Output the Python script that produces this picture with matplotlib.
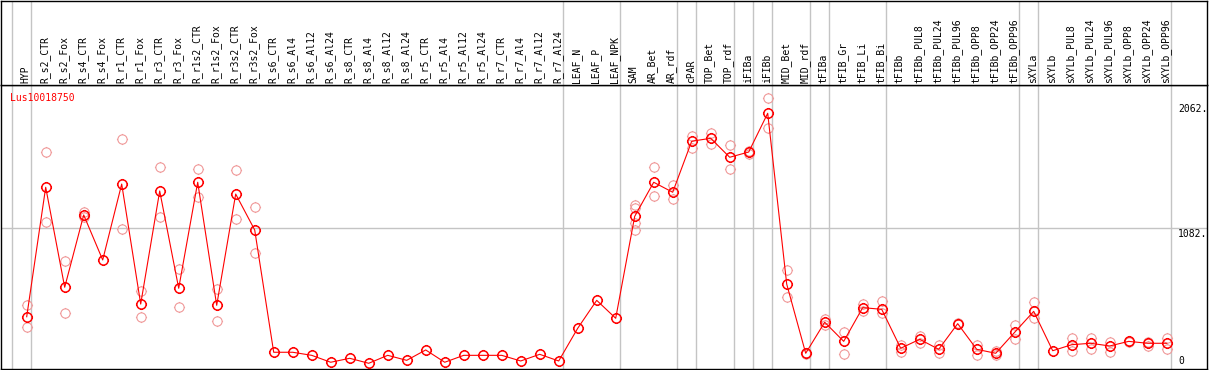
import matplotlib
matplotlib.use("Agg")
import matplotlib.pyplot as plt
from matplotlib.path import Path

gene = "Lus10018750"

samples = ["HYP", "R_s2_CTR", "R_s2_Fox", "R_s4_CTR", "R_s4_Fox", "R_r1_CTR", "R_r1_Fox",
           "R_r3_CTR", "R_r3_Fox", "R_r1s2_CTR", "R_r1s2_Fox", "R_r3s2_CTR", "R_r3s2_Fox",
           "R_s6_CTR", "R_s6_Al4", "R_s6_Al12", "R_s6_Al24", "R_s8_CTR", "R_s8_Al4",
           "R_s8_Al12", "R_s8_Al24", "R_r5_CTR", "R_r5_Al4", "R_r5_Al12", "R_r5_Al24",
           "R_r7_CTR", "R_r7_Al4", "R_r7_Al12", "R_r7_Al24", "LEAF_N", "LEAF_P", "LEAF_NPK",
           "SAM", "AR_Bet", "AR_rdf", "cPAR", "TOP_Bet", "TOP_rdf", "iFIBa", "iFIBb",
           "MID_Bet", "MID_rdf", "tFIBa", "tFIB_Gr", "tFIB_Li", "tFIB_Bi", "tFIBb",
           "tFIBb_PUL8", "tFIBb_PUL24", "tFIBb_PUL96", "tFIBb_OPP8", "tFIBb_OPP24",
           "tFIBb_OPP96", "sXYLa", "sXYLb", "sXYLb_PUL8", "sXYLb_PUL24", "sXYLb_PUL96",
           "sXYLb_OPP8", "sXYLb_OPP24", "sXYLb_OPP96"]

means = [392, 1402, 622, 1186, 835, 1427, 491, 1373, 614, 1441, 481, 1349, 1069,
         115, 115, 91, 37, 68, 29, 91, 52, 133, 37, 91, 91, 91, 47, 99, 47,
         302, 520, 380,
         1175, 1441, 1363, 1761, 1784, 1636, 1677, 1979, 647, 107,
         349, 200, 463, 450, 146, 216, 138, 338, 138, 107, 271,
         434, 127, 174, 185, 164, 200, 185, 185]

reps = [[484, 310], [1675, 1129], [824, 421], [1211, 1172], [], [1776, 1076], [590, 388],
        [1558, 1172], [762, 466], [1542, 1328], [608, 356], [1534, 1157], [1246, 887],
        [], [], [], [], [], [], [], [], [], [], [], [], [], [], [], [],
        [], [], [],
        [1260, 1243, 1126, 1066], [1558, 1332], [1417, 1308], [1802, 1711], [1825, 1737],
        [1729, 1542], [1687, 1659], [2096, 1862], [754, 544], [110, 104],
        [377, 328], [273, 99], [491, 439], [512, 419], [172, 119], [242, 190], [169, 107],
        [342, 334], [172, 91], [127, 91], [328, 218],
        [505, 385], [], [224, 127], [226, 143], [197, 119], [206, 194], [195, 166], [226, 140]]

# group boundaries (after these sample indices)
groups_end = [-1, 0, 28, 31, 34, 35, 37, 38, 39, 41, 42, 45, 52, 53, 60]
y_ticks = [0, 1082, 2062]
y_labels = ["0", "1082.", "2062."]

W, H = 1209, 370
mono = "DejaVu Sans Mono"
grey = "#c4c4c4"
red = "#ff0000"
pink = "#f09a9a"

fig = plt.figure(figsize=(W / 100, H / 100), dpi=100)

# marker: open circle with tiny ticks
ring = Path.unit_circle()
ticks = Path([[0, 1], [0, 1.2], [0, -1], [0, -1.2], [1, 0], [1.2, 0], [-1, 0], [-1.2, 0]],
             [Path.MOVETO, Path.LINETO] * 4)
mk = Path.make_compound_path(ring, ticks)

xlim = ((1 - 26.7) / 19, (1207 - 26.7) / 19)
ylim = ((367 - 369) / 0.1282, (367 - 85) / 0.1282)

ax = fig.add_axes([1 / W, 1 / H, 1206 / W, 284 / H])
ax.set_xlim(*xlim)
ax.set_ylim(*ylim)
ax.set_xticks([])
ax.set_yticks([])

head = fig.add_axes([1 / W, 285 / H, 1206 / W, 84.5 / H])
head.set_xlim(*xlim)
head.set_ylim(0, 1)
head.set_xticks([])
head.set_yticks([])

for a in (ax, head):
    for s in a.spines.values():
        s.set_linewidth(1.0)
        s.set_color("black")
    for g in groups_end:
        a.axvline(g + 0.21, color=grey, lw=1.0, zorder=0)

ax.axhline(1082, color=grey, lw=1.0, zorder=0)

for i, name in enumerate(samples):
    head.text(i - 0.05, 0.025, name, rotation=90, ha="center", va="bottom",
              fontsize=7, family=mono)

for i, r in enumerate(reps):
    if r:
        ax.plot([i] * len(r), r, ls="none", marker=mk, ms=8, mfc="none",
                mec=pink, mew=0.8, zorder=2)

ax.plot(range(len(means)), means, color=red, lw=0.8, zorder=3)
ax.plot(range(len(means)), means, ls="none", marker=mk, ms=8, mfc="none",
        mec=red, mew=1.1, zorder=4)

for v, lab in zip(y_ticks, y_labels):
    if v == 0:
        ax.annotate(lab, xy=(1, v), xycoords=("axes fraction", "data"), xytext=(-29, 1),
                    textcoords="offset pixels", ha="left", va="bottom", fontsize=7, family=mono)
    else:
        ax.annotate(lab, xy=(1, v), xycoords=("axes fraction", "data"), xytext=(-29, -1),
                    textcoords="offset pixels", ha="left", va="top", fontsize=7, family=mono)

fig.text(10 / W, 1 - 97.7 / H, gene, color=red, fontsize=7, family=mono, va="center", ha="left")

fig.savefig("out.png", dpi=100)
